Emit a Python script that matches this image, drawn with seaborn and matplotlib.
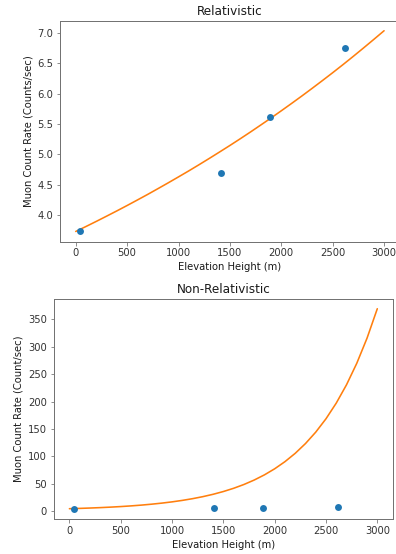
import matplotlib
matplotlib.use("Agg")
import matplotlib.pyplot as plt
import seaborn as sns
import pandas as pd

# Measured muon count rates at four elevations
elevation_m = [45, 1409, 1891, 2618]
count_rate = [3.73, 4.70, 5.61, 6.75]

# Model curves sampled every 100 m along the elevation axis
model_elevation = list(range(0, 3001, 100))
relativistic_rate = [
    3.730, 3.812, 3.896, 3.982, 4.069, 4.158, 4.249, 4.341, 4.436, 4.532,
    4.630, 4.729, 4.831, 4.935, 5.041, 5.148, 5.258, 5.370, 5.485, 5.601,
    5.720, 5.841, 5.964, 6.090, 6.218, 6.348, 6.481, 6.617, 6.756, 6.897,
    7.040,
]
nonrelativistic_rate = [
    4.25, 4.81, 5.46, 6.22, 7.11, 8.15, 9.37, 10.80, 12.48, 14.44,
    16.73, 19.42, 22.56, 26.25, 30.56, 35.61, 41.52, 48.44, 56.55, 66.04,
    77.14, 90.15, 105.38, 123.21, 144.08, 168.52, 197.14, 230.64, 269.87, 315.79,
    369.56,
]

x_label = "Elevation Height (m)"
titles = ["Relativistic", "Non-Relativistic"]
y_labels = ["Muon Count Rate (Counts/sec)", "Muon Count Rate (Count/sec)"]

sns.set_style("ticks")
plt.rcParams.update({
    "font.family": ["DejaVu Sans"],
    "font.size": 10,
    "axes.titlesize": 12,
    "axes.labelsize": 10,
    "xtick.labelsize": 10,
    "ytick.labelsize": 10,
    "axes.edgecolor": "0.45",
    "axes.linewidth": 1.0,
    "xtick.color": "0.45",
    "ytick.color": "0.45",
    "xtick.labelcolor": "0.2",
    "ytick.labelcolor": "0.2",
    "axes.labelcolor": "0.1",
    "xtick.major.size": 3.5,
    "ytick.major.size": 3.5,
})

W, H = 396, 554
fig = plt.figure(figsize=(W / 72, H / 72), dpi=72)

def box(left, top, right, bottom):
    return [left / W, 1 - bottom / H, (right - left) / W, (bottom - top) / H]

ax_top = fig.add_axes(box(60.3, 20.7, 399.5, 241.5))
ax_bot = fig.add_axes(box(54.0, 298.7, 392.7, 519.0))

points = pd.DataFrame({"elevation": elevation_m, "rate": count_rate})
curves = pd.DataFrame({
    "elevation": model_elevation,
    "relativistic": relativistic_rate,
    "nonrelativistic": nonrelativistic_rate,
})

blue = "#1f77b4"
orange = "#ff7f0e"

for ax, col, title, ylab in zip(
    [ax_top, ax_bot], ["relativistic", "nonrelativistic"], titles, y_labels
):
    sns.scatterplot(data=points, x="elevation", y="rate", ax=ax,
                    color=blue, s=48, linewidth=0, zorder=3)
    sns.lineplot(data=curves, x="elevation", y=col, ax=ax,
                 color=orange, linewidth=1.6, zorder=2)
    ax.set_title(title, color="0.1")
    ax.set_xlabel(x_label)
    ax.set_ylabel(ylab)
    ax.set_xticks([0, 500, 1000, 1500, 2000, 2500, 3000])

ax_top.set_yticks([4.0, 4.5, 5.0, 5.5, 6.0, 6.5, 7.0])
ax_bot.set_yticks([0, 50, 100, 150, 200, 250, 300, 350])

fig.savefig("out.png", dpi=72, facecolor="white")
